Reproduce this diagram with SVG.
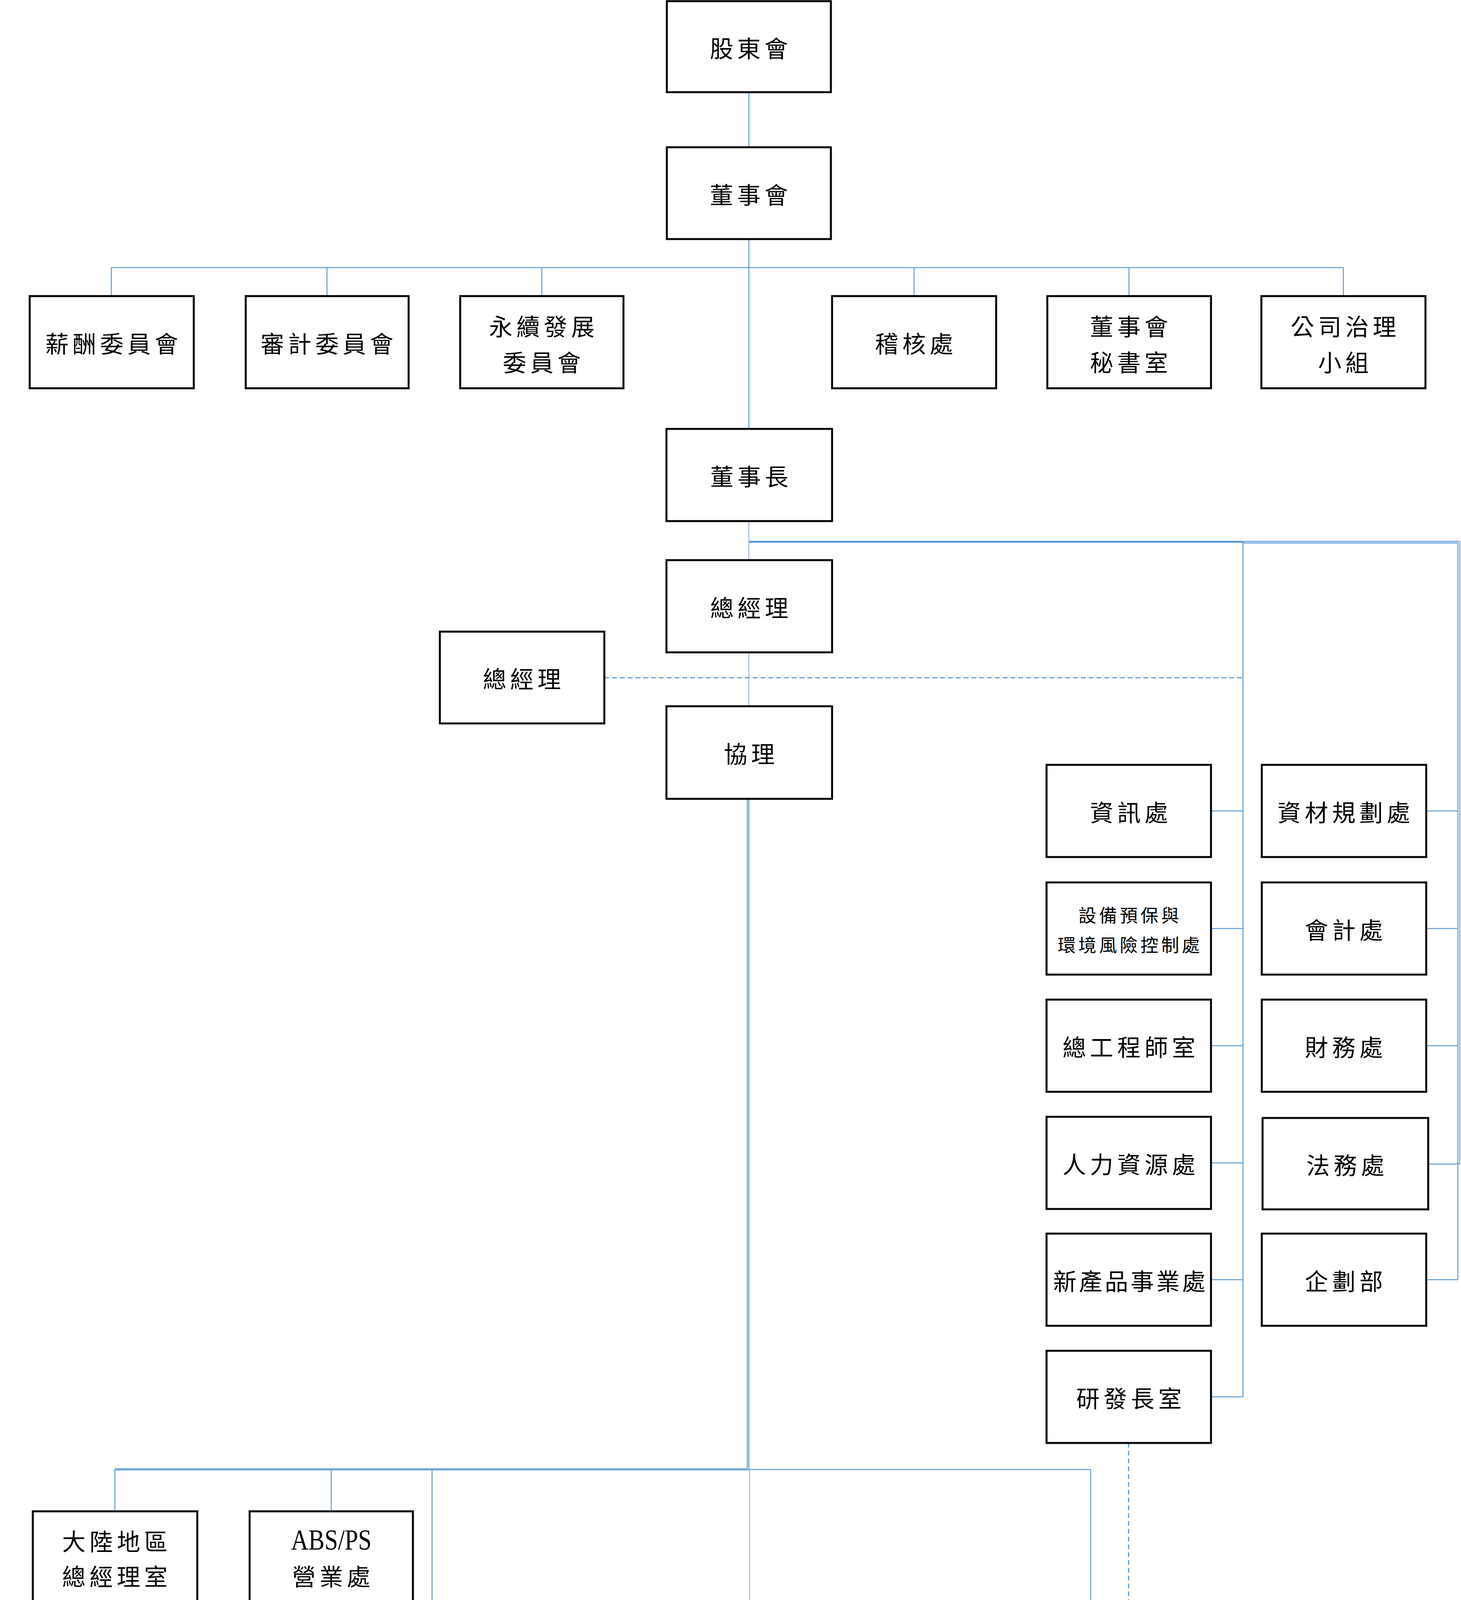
<svg xmlns="http://www.w3.org/2000/svg" width="3740" height="4797" viewBox="0 0 3740 4797">
<style>
.box{fill:#ffffff;stroke:#000000;stroke-width:5}
.t{font-family:"Noto Sans CJK TC","Noto Sans CJK SC",sans-serif;font-size:60px;letter-spacing:10px;text-anchor:middle;dominant-baseline:central;fill:#000000}
.s{font-size:46px;letter-spacing:7px}
.c{fill:none;stroke:#5B9BD5;stroke-width:2.5}
.g{fill:none;stroke:#8FA8C8;stroke-width:2}
.k{fill:none;stroke:#5B9BD5;stroke-width:5}
.d{fill:none;stroke:#5B9BD5;stroke-width:3;stroke-dasharray:12 8}
.lat{font-family:"Liberation Serif",serif;font-size:74px;text-anchor:middle;dominant-baseline:central;fill:#000000}
</style>
<rect width="3740" height="4797" fill="#ffffff"/>
<g id="connectors">
<line class="c" x1="1917" y1="236" x2="1917" y2="377"/>
<line class="c" x1="1917" y1="612" x2="1917" y2="1098"/>
<line class="c" x1="285" y1="685" x2="3439" y2="685"/>
<line class="c" x1="285" y1="685" x2="285" y2="758"/>
<line class="c" x1="837" y1="685" x2="837" y2="758"/>
<line class="c" x1="1387" y1="685" x2="1387" y2="758"/>
<line class="c" x1="2340" y1="685" x2="2340" y2="758"/>
<line class="c" x1="2890" y1="685" x2="2890" y2="758"/>
<line class="c" x1="3439" y1="685" x2="3439" y2="758"/>
<line class="g" x1="1917" y1="1334" x2="1917" y2="1434"/>
<line class="g" x1="1917" y1="1670" x2="1917" y2="1808"/>
<line class="k" x1="1917" y1="1387" x2="3182" y2="1387"/>
<line class="c" x1="3182" y1="1386" x2="3736" y2="1386"/>
<line class="c" x1="3182" y1="1390" x2="3732" y2="1390"/>
<line class="c" x1="3182" y1="1387" x2="3182" y2="3576"/>
<line class="c" x1="3732" y1="1390" x2="3732" y2="3276"/>
<line class="c" x1="3737" y1="1386" x2="3737" y2="2980"/>
<line class="c" x1="3100" y1="2076" x2="3182" y2="2076"/>
<line class="c" x1="3100" y1="2377" x2="3182" y2="2377"/>
<line class="c" x1="3100" y1="2677" x2="3182" y2="2677"/>
<line class="c" x1="3100" y1="2977" x2="3182" y2="2977"/>
<line class="c" x1="3100" y1="3276" x2="3182" y2="3276"/>
<line class="c" x1="3100" y1="3576" x2="3182" y2="3576"/>
<line class="c" x1="3651" y1="2076" x2="3732" y2="2076"/>
<line class="c" x1="3651" y1="2377" x2="3732" y2="2377"/>
<line class="c" x1="3651" y1="2677" x2="3732" y2="2677"/>
<line class="c" x1="3656" y1="2980" x2="3737" y2="2980"/>
<line class="c" x1="3651" y1="3276" x2="3732" y2="3276"/>
<line class="d" x1="1547" y1="1735" x2="3182" y2="1735"/>
<line class="c" x1="1913" y1="2045" x2="1913" y2="3760"/>
<line class="c" x1="1917" y1="2045" x2="1917" y2="3763"/>
<line class="c" x1="294" y1="3760" x2="1913" y2="3760"/>
<line class="c" x1="294" y1="3763" x2="1917" y2="3763"/>
<line class="c" x1="1917" y1="3762" x2="2792" y2="3762"/>
<line class="c" x1="294" y1="3762" x2="294" y2="3869"/>
<line class="c" x1="848" y1="3762" x2="848" y2="3869"/>
<line class="c" x1="1106" y1="3762" x2="1106" y2="4662"/>
<line class="g" x1="1919" y1="3762" x2="1919" y2="4245"/>
<line class="c" x1="2792" y1="3762" x2="2792" y2="4209"/>
<line class="c" x1="1106" y1="4361" x2="1190" y2="4361"/>
<line class="c" x1="1106" y1="4662" x2="1190" y2="4662"/>
<polyline class="c" points="294,4106 294,4157 2,4157 2,4662 84,4662"/>
<line class="c" x1="2" y1="4327" x2="84" y2="4327"/>
<line class="d" x1="2889" y1="3694" x2="2889" y2="4209"/>
</g>
<g id="n-gudonghui"><rect class="box" x="1707" y="3" width="420" height="233"/><text class="t" x="1922" y="120">股東會</text></g>
<g id="n-dongshihui"><rect class="box" x="1707" y="377" width="420" height="235"/><text class="t" x="1922" y="495">董事會</text></g>
<g id="n-xinchou"><rect class="box" x="76" y="758" width="420" height="236"/><text class="t" x="291" y="876">薪酬委員會</text></g>
<g id="n-shenji"><rect class="box" x="629" y="758" width="417" height="236"/><text class="t" x="842" y="876">審計委員會</text></g>
<g id="n-yongxu"><rect class="box" x="1178" y="758" width="418" height="236"/><text class="t" x="1392" y="832">永續發展</text><text class="t" x="1392" y="924">委員會</text></g>
<g id="n-jihe"><rect class="box" x="2130" y="758" width="420" height="236"/><text class="t" x="2345" y="876">稽核處</text></g>
<g id="n-mishu"><rect class="box" x="2681" y="758" width="419" height="236"/><text class="t" x="2895" y="832">董事會</text><text class="t" x="2895" y="924">秘書室</text></g>
<g id="n-zhili"><rect class="box" x="3229" y="758" width="420" height="236"/><text class="t" x="3444" y="832">公司治理</text><text class="t" x="3444" y="924">小組</text></g>
<g id="n-dongshizhang"><rect class="box" x="1706" y="1098" width="424" height="236"/><text class="t" x="1923" y="1216">董事長</text></g>
<g id="n-zongjingli"><rect class="box" x="1706" y="1434" width="424" height="236"/><text class="t" x="1923" y="1552">總經理</text></g>
<g id="n-zongjingli2"><rect class="box" x="1126" y="1617" width="421" height="235"/><text class="t" x="1341" y="1734">總經理</text></g>
<g id="n-xieli"><rect class="box" x="1706" y="1808" width="424" height="237"/><text class="t" x="1923" y="1926">協理</text></g>
<g id="n-zixun"><rect class="box" x="2679" y="1958" width="421" height="236"/><text class="t" x="2895" y="2076">資訊處</text></g>
<g id="n-shebei"><rect class="box" x="2679" y="2259" width="421" height="236"/><text class="t s" x="2893" y="2340">設備預保與</text><text class="t s" x="2893" y="2416">環境風險控制處</text></g>
<g id="n-zonggongchengshi"><rect class="box" x="2679" y="2559" width="421" height="236"/><text class="t" x="2895" y="2677">總工程師室</text></g>
<g id="n-renli"><rect class="box" x="2679" y="2859" width="421" height="236"/><text class="t" x="2895" y="2977">人力資源處</text></g>
<g id="n-xinchanpin"><rect class="box" x="2679" y="3158" width="421" height="236"/><text class="t" x="2894" y="3276" style="letter-spacing:6px">新產品事業處</text></g>
<g id="n-yanfazhang"><rect class="box" x="2679" y="3458" width="421" height="236"/><text class="t" x="2895" y="3576">研發長室</text></g>
<g id="n-zicai"><rect class="box" x="3230" y="1958" width="421" height="236"/><text class="t" x="3445" y="2076">資材規劃處</text></g>
<g id="n-kuaiji"><rect class="box" x="3230" y="2259" width="421" height="236"/><text class="t" x="3445" y="2377">會計處</text></g>
<g id="n-caiwu"><rect class="box" x="3230" y="2559" width="421" height="236"/><text class="t" x="3445" y="2677">財務處</text></g>
<g id="n-fawu"><rect class="box" x="3232" y="2862" width="424" height="234"/><text class="t" x="3449" y="2979">法務處</text></g>
<g id="n-qihua"><rect class="box" x="3230" y="3158" width="421" height="236"/><text class="t" x="3445" y="3276">企劃部</text></g>
<g id="n-dalu"><rect class="box" x="84" y="3869" width="421" height="237"/><text class="t" x="299" y="3942">大陸地區</text><text class="t" x="299" y="4032">總經理室</text></g>
<g id="n-abs"><rect class="box" x="639" y="3869" width="418" height="237"/><text class="lat" x="848" y="3942" textLength="206" lengthAdjust="spacingAndGlyphs">ABS/PS</text><text class="t" x="853" y="4032">營業處</text></g>
<g id="n-zhongshan"><rect class="box" x="84" y="4208" width="421" height="237"/><text class="t" x="299" y="4280">中山公司</text><text class="t" x="299" y="4370">副總經理室</text></g>
<g id="n-tianjin"><rect class="box" x="84" y="4545" width="421" height="235"/><text class="t" x="299" y="4616">天津公司</text><text class="t" x="299" y="4706">副總經理室</text></g>
<g id="n-linyuan"><rect class="box" x="1190" y="4245" width="417" height="236"/><text class="t" x="1403" y="4363">林園廠</text></g>
<g id="n-qianzhen"><rect class="box" x="1190" y="4545" width="417" height="235"/><text class="t" x="1403" y="4662">前鎮廠</text></g>
<g id="n-toufen"><rect class="box" x="1707" y="4245" width="424" height="235"/><text class="t" x="1924" y="4362">頭份廠</text></g>
<g id="n-yanjiu"><rect class="box" x="2681" y="4209" width="419" height="236"/><text class="t" x="2895" y="4327">研究發展部</text></g>
</svg>
